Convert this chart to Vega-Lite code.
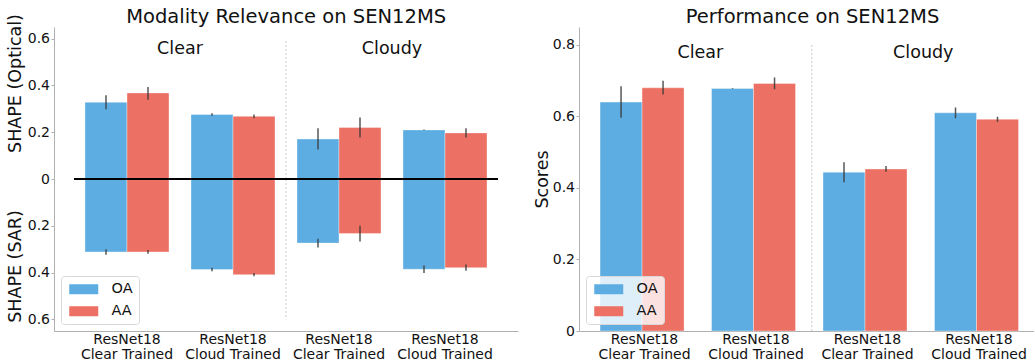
{
  "$schema": "https://vega.github.io/schema/vega-lite/v6.json",
  "padding": {"left": 6, "top": 6, "right": 0, "bottom": 0},
  "config": {
    "font": "DejaVu Sans",
    "view": {"stroke": null},
    "axis": {
      "domainColor": "#b0b0b0", "tickColor": "#b0b0b0", "tickSize": 3,
      "labelFontSize": 14, "labelColor": "#111", "titleFontSize": 17.5,
      "titleFontWeight": "normal", "titleColor": "#111", "grid": false
    },
    "legend": {
      "orient": "bottom-left", "offset": 7, "padding": 6,
      "fillColor": "rgba(255,255,255,0.8)", "strokeColor": "#d8d8d8", "cornerRadius": 3,
      "labelFontSize": 14.5, "labelColor": "#111", "labelOffset": 30,
      "symbolType": "M-1,-1H4.8V1H-1Z", "symbolSize": 100, "symbolStrokeWidth": 0,
      "rowPadding": 7, "title": null
    },
    "title": {"fontSize": 19.5, "fontWeight": "normal", "color": "#111", "baseline": "alphabetic", "anchor": "middle"}
  },
  "datasets": {
    "shap": [
      {"bar": "Clear / Clear Trained", "metric": "OA", "optical": 0.328, "optical_lo": 0.298, "optical_hi": 0.358, "sar": 0.312, "sar_lo": 0.300, "sar_hi": 0.324},
      {"bar": "Clear / Clear Trained", "metric": "AA", "optical": 0.368, "optical_lo": 0.339, "optical_hi": 0.393, "sar": 0.312, "sar_lo": 0.304, "sar_hi": 0.320},
      {"bar": "Clear / Cloud Trained", "metric": "OA", "optical": 0.276, "optical_lo": 0.271, "optical_hi": 0.281, "sar": 0.387, "sar_lo": 0.380, "sar_hi": 0.394},
      {"bar": "Clear / Cloud Trained", "metric": "AA", "optical": 0.268, "optical_lo": 0.260, "optical_hi": 0.276, "sar": 0.409, "sar_lo": 0.402, "sar_hi": 0.416},
      {"bar": "Cloudy / Clear Trained", "metric": "OA", "optical": 0.171, "optical_lo": 0.126, "optical_hi": 0.217, "sar": 0.274, "sar_lo": 0.256, "sar_hi": 0.293},
      {"bar": "Cloudy / Clear Trained", "metric": "AA", "optical": 0.220, "optical_lo": 0.178, "optical_hi": 0.263, "sar": 0.233, "sar_lo": 0.200, "sar_hi": 0.267},
      {"bar": "Cloudy / Cloud Trained", "metric": "OA", "optical": 0.210, "optical_lo": 0.208, "optical_hi": 0.212, "sar": 0.386, "sar_lo": 0.370, "sar_hi": 0.402},
      {"bar": "Cloudy / Cloud Trained", "metric": "AA", "optical": 0.197, "optical_lo": 0.177, "optical_hi": 0.217, "sar": 0.379, "sar_lo": 0.366, "sar_hi": 0.392}
    ],
    "perf": [
      {"bar": "Clear / Clear Trained", "metric": "OA", "score": 0.640, "lo": 0.596, "hi": 0.684},
      {"bar": "Clear / Clear Trained", "metric": "AA", "score": 0.680, "lo": 0.661, "hi": 0.700},
      {"bar": "Clear / Cloud Trained", "metric": "OA", "score": 0.678, "lo": 0.677, "hi": 0.679},
      {"bar": "Clear / Cloud Trained", "metric": "AA", "score": 0.692, "lo": 0.676, "hi": 0.709},
      {"bar": "Cloudy / Clear Trained", "metric": "OA", "score": 0.444, "lo": 0.416, "hi": 0.472},
      {"bar": "Cloudy / Clear Trained", "metric": "AA", "score": 0.453, "lo": 0.445, "hi": 0.461},
      {"bar": "Cloudy / Cloud Trained", "metric": "OA", "score": 0.610, "lo": 0.595, "hi": 0.625},
      {"bar": "Cloudy / Cloud Trained", "metric": "AA", "score": 0.592, "lo": 0.585, "hi": 0.599}
    ],
    "groups": [
      {"bar": "Clear / Cloud Trained", "label": "Clear"},
      {"bar": "Cloudy / Cloud Trained", "label": "Cloudy"}
    ],
    "sep": [{"bar": "Cloudy / Clear Trained"}],
    "zero": [{"a": "Clear / Clear Trained", "b": "Cloudy / Cloud Trained"}]
  },
  "resolve": {"scale": {"x": "independent", "y": "independent"}, "legend": {"color": "independent"}},
  "spacing": 15,
  "hconcat": [
    {
      "title": {"text": "Modality Relevance on SEN12MS", "frame": "bounds", "dx": 24, "offset": -14},
      "spacing": 0,
      "bounds": "flush",
      "resolve": {"scale": {"y": "independent"}, "legend": {"color": "independent"}},
      "vconcat": [
        {
          "width": 464, "height": 152,
          "layer": [
            {
              "data": {"name": "shap"},
              "mark": {"type": "bar", "stroke": "white", "strokeOpacity": 0.35, "strokeWidth": 1},
              "encoding": {
                "x": {"field": "bar", "type": "nominal", "axis": null,
                      "scale": {"domain": ["Clear / Clear Trained", "Clear / Cloud Trained", "Cloudy / Clear Trained", "Cloudy / Cloud Trained"], "paddingInner": 0.2075, "paddingOuter": 0.2924}},
                "xOffset": {"field": "metric", "type": "nominal", "scale": {"domain": ["OA", "AA"], "paddingInner": 0, "paddingOuter": 0}},
                "y": {"field": "optical", "type": "quantitative",
                      "scale": {"domain": [0, 0.65], "nice": false},
                      "axis": {"title": "SHAPE (Optical)", "values": [0, 0.2, 0.4, 0.6], "format": "~g", "labelPadding": 1.5, "titleY": 56, "titlePadding": 3}},
                "color": {"field": "metric", "type": "nominal", "legend": null,
                          "scale": {"domain": ["OA", "AA"], "range": ["#5DADE2", "#EC7063"]}}
              }
            },
            {
              "data": {"name": "shap"},
              "mark": {"type": "rule", "color": "#3a3a3a", "opacity": 0.85, "strokeWidth": 1.5},
              "encoding": {
                "x": {"field": "bar", "type": "nominal"},
                "xOffset": {"field": "metric", "type": "nominal"},
                "y": {"field": "optical_lo", "type": "quantitative"},
                "y2": {"field": "optical_hi"}
              }
            },
            {
              "data": {"name": "sep"},
              "mark": {"type": "rule", "color": "#cccccc", "strokeDash": [2, 2], "strokeWidth": 1},
              "encoding": {
                "x": {"field": "bar", "type": "nominal", "bandPosition": -0.131},
                "y": {"datum": 0},
                "y2": {"datum": 0.6}
              }
            },
            {
              "data": {"name": "groups"},
              "mark": {"type": "text", "fontSize": 17.5, "baseline": "middle", "align": "center", "color": "#111"},
              "encoding": {
                "x": {"field": "bar", "type": "nominal", "bandPosition": -0.131},
                "y": {"datum": 0.558},
                "text": {"field": "label"}
              }
            }
          ]
        },
        {
          "width": 464, "height": 152,
          "layer": [
            {
              "data": {"name": "shap"},
              "mark": {"type": "bar", "stroke": "white", "strokeOpacity": 0.35, "strokeWidth": 1},
              "encoding": {
                "x": {"field": "bar", "type": "nominal",
                      "scale": {"domain": ["Clear / Clear Trained", "Clear / Cloud Trained", "Cloudy / Clear Trained", "Cloudy / Cloud Trained"], "paddingInner": 0.2075, "paddingOuter": 0.2924},
                      "axis": {"title": null, "labelAngle": 0, "ticks": false, "labelPadding": 1, "labelLineHeight": 15,
                               "labelExpr": "['ResNet18', slice(datum.label, -13)]"}},
                "xOffset": {"field": "metric", "type": "nominal", "scale": {"domain": ["OA", "AA"], "paddingInner": 0, "paddingOuter": 0}},
                "y": {"field": "sar", "type": "quantitative",
                      "scale": {"domain": [0, 0.65], "nice": false, "reverse": true},
                      "axis": {"title": "SHAPE (SAR)", "values": [0.2, 0.4, 0.6], "format": "~g", "labelPadding": 1.5, "titleY": 87, "titlePadding": 3}},
                "color": {"field": "metric", "type": "nominal",
                          "scale": {"domain": ["OA", "AA"], "range": ["#5DADE2", "#EC7063"]}}
              }
            },
            {
              "data": {"name": "shap"},
              "mark": {"type": "rule", "color": "#3a3a3a", "opacity": 0.85, "strokeWidth": 1.5},
              "encoding": {
                "x": {"field": "bar", "type": "nominal"},
                "xOffset": {"field": "metric", "type": "nominal"},
                "y": {"field": "sar_lo", "type": "quantitative"},
                "y2": {"field": "sar_hi"}
              }
            },
            {
              "data": {"name": "sep"},
              "mark": {"type": "rule", "color": "#cccccc", "strokeDash": [2, 2], "strokeWidth": 1},
              "encoding": {
                "x": {"field": "bar", "type": "nominal", "bandPosition": -0.131},
                "y": {"datum": 0},
                "y2": {"datum": 0.6}
              }
            },
            {
              "data": {"name": "zero"},
              "mark": {"type": "rule", "color": "#000000", "strokeWidth": 1.8},
              "encoding": {
                "x": {"field": "a", "type": "nominal", "bandPosition": -0.131},
                "x2": {"field": "b", "bandPosition": 1.131},
                "y": {"datum": 0}
              }
            }
          ]
        }
      ]
    },
    {
      "title": {"text": "Performance on SEN12MS", "frame": "group", "dx": 6, "offset": 0},
      "width": 455, "height": 304,
      "layer": [
        {
          "data": {"name": "perf"},
          "mark": {"type": "bar", "stroke": "white", "strokeOpacity": 0.35, "strokeWidth": 1},
          "encoding": {
            "x": {"field": "bar", "type": "nominal",
                  "scale": {"domain": ["Clear / Clear Trained", "Clear / Cloud Trained", "Cloudy / Clear Trained", "Cloudy / Cloud Trained"], "paddingInner": 0.2018, "paddingOuter": 0.1415, "align": 0.667},
                  "axis": {"title": null, "labelAngle": 0, "ticks": false, "labelPadding": 1, "labelLineHeight": 15,
                           "labelExpr": "['ResNet18', slice(datum.label, -13)]"}},
            "xOffset": {"field": "metric", "type": "nominal", "scale": {"domain": ["OA", "AA"], "paddingInner": 0, "paddingOuter": 0}},
            "y": {"field": "score", "type": "quantitative",
                  "scale": {"domain": [0, 0.85], "nice": false},
                  "axis": {"title": "Scores", "values": [0, 0.2, 0.4, 0.6, 0.8], "format": "~g", "labelPadding": 1.5, "titlePadding": 1}},
            "color": {"field": "metric", "type": "nominal",
                      "scale": {"domain": ["OA", "AA"], "range": ["#5DADE2", "#EC7063"]}}
          }
        },
        {
          "data": {"name": "perf"},
          "mark": {"type": "rule", "color": "#3a3a3a", "opacity": 0.85, "strokeWidth": 1.5},
          "encoding": {
            "x": {"field": "bar", "type": "nominal"},
            "xOffset": {"field": "metric", "type": "nominal"},
            "y": {"field": "lo", "type": "quantitative"},
            "y2": {"field": "hi"}
          }
        },
        {
          "data": {"name": "sep"},
          "mark": {"type": "rule", "color": "#cccccc", "strokeDash": [2, 2], "strokeWidth": 1},
          "encoding": {
            "x": {"field": "bar", "type": "nominal", "bandPosition": -0.126},
            "y": {"datum": 0},
            "y2": {"datum": 0.8}
          }
        },
        {
          "data": {"name": "groups"},
          "mark": {"type": "text", "fontSize": 17.5, "baseline": "middle", "align": "center", "color": "#111"},
          "encoding": {
            "x": {"field": "bar", "type": "nominal", "bandPosition": -0.126},
            "y": {"datum": 0.777},
            "text": {"field": "label"}
          }
        }
      ]
    }
  ]
}
